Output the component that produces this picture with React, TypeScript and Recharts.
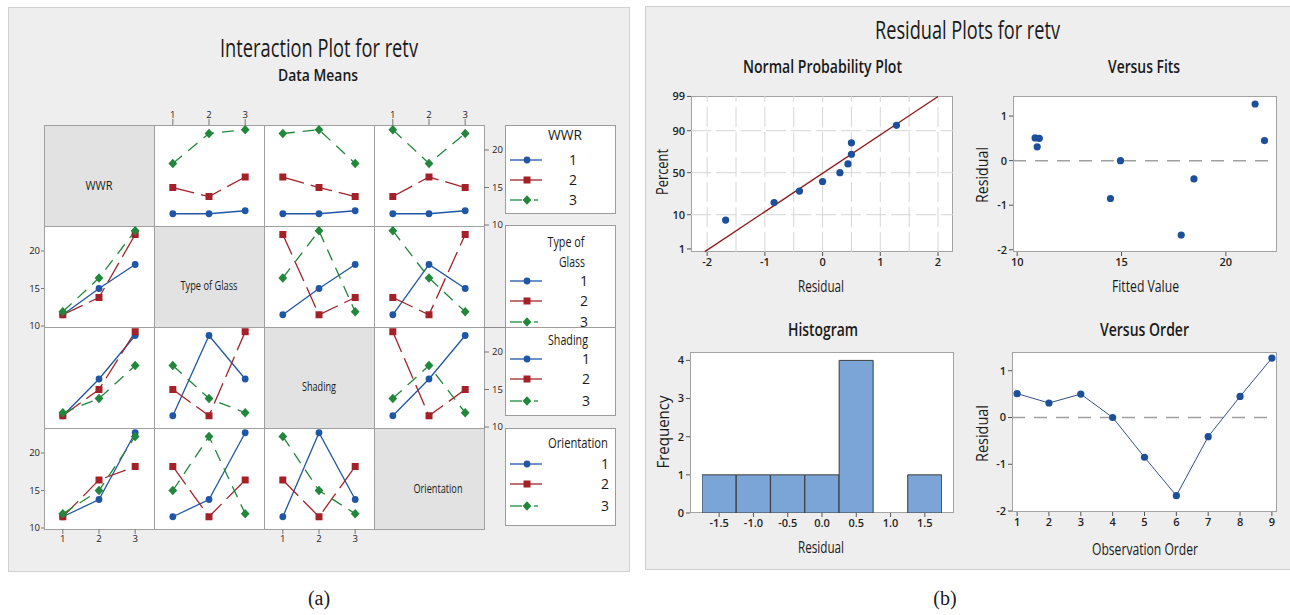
import React from 'react';
import {
  LineChart,
  Line,
  ScatterChart,
  Scatter,
  BarChart,
  Bar,
  XAxis,
  YAxis,
  ReferenceLine,
} from 'recharts';

// ---- interaction plot data (L9 run order) ----
const factorNames = ['WWR', 'Type of Glass', 'Shading', 'Orientation'];
const levels = [1, 2, 3];
const wwrLevel = [1, 1, 1, 2, 2, 2, 3, 3, 3];
const glassLevel = [1, 2, 3, 1, 2, 3, 1, 2, 3];
const shadingLevel = [1, 2, 3, 2, 3, 1, 3, 1, 2];
const orientationLevel = [1, 2, 3, 3, 1, 2, 2, 3, 1];
const retv = [11.5, 11.5, 11.9, 15.0, 13.8, 16.4, 18.2, 22.2, 22.7];
const meanTicks = [10, 15, 20];

// ---- residual plots data ----
const residuals = [0.51, 0.31, 0.5, 0.0, -0.85, -1.67, -0.41, 0.45, 1.27];
const fittedValues = [10.86, 10.96, 11.06, 14.95, 14.47, 17.86, 18.47, 21.85, 21.4];
const probResidual = [-1.68, -0.84, -0.4, 0.0, 0.3, 0.44, 0.5, 0.5, 1.28];
const probPercent = [7.4, 18.1, 28.7, 39.4, 50, 60.6, 71.3, 81.9, 92.6];
const probTicks = [1, 10, 50, 90, 99];
const probGridX = [-2, -1.5, -1, -0.5, 0, 0.5, 1, 1.5, 2];
const fitLineResidual = [-2.04, 2.0];
const fitLinePercent = [0.8, 99];
const histBins = ['-1.5', '-1.0', '-0.5', '0.0', '0.5', '1.0', '1.5'];
const histCounts = [1, 1, 1, 1, 4, 0, 1];
const orderTicks = [1, 2, 3, 4, 5, 6, 7, 8, 9];

const FONT = "'Open Sans', 'Noto Sans', sans-serif";
const design = [wwrLevel, glassLevel, shadingLevel, orientationLevel];

// inverse normal cdf (Acklam) for the probability axis
function probit(p: number) {
  const a = [-39.69683028665376, 220.9460984245205, -275.9285104469687, 138.357751867269, -30.66479806614716, 2.506628277459239];
  const b = [-54.47609879822406, 161.5858368580409, -155.6989798598866, 66.80131188771972, -13.28068155288572];
  const c = [-0.007784894002430293, -0.3223964580411365, -2.400758277161838, -2.549732539343734, 4.374664141464968, 2.938163982698783];
  const d = [0.007784695709041462, 0.3224671290700398, 2.445134137142996, 3.754408661907416];
  const lo = 0.02425;
  if (p < lo || p > 1 - lo) {
    const q = Math.sqrt(-2 * Math.log(p < lo ? p : 1 - p));
    const v = (((((c[0] * q + c[1]) * q + c[2]) * q + c[3]) * q + c[4]) * q + c[5]) /
      ((((d[0] * q + d[1]) * q + d[2]) * q + d[3]) * q + 1);
    return p < lo ? v : -v;
  }
  const q = p - 0.5;
  const r = q * q;
  return ((((((a[0] * r + a[1]) * r + a[2]) * r + a[3]) * r + a[4]) * r + a[5]) * q) /
    (((((b[0] * r + b[1]) * r + b[2]) * r + b[3]) * r + b[4]) * r + 1);
}

const seriesStyle = [
  { color: '#1f56a6', dash: undefined, shape: 'circle' },
  { color: '#a3222a', dash: '22 7', shape: 'square' },
  { color: '#22873c', dash: '12 8', shape: 'diamond' },
];

function markerPath(shape: string, cx: number, cy: number, color: string, key?: any) {
  if (shape === 'circle') return <circle key={key} cx={cx} cy={cy} r={3.4} fill={color} />;
  if (shape === 'square') return <rect key={key} x={cx - 3.5} y={cy - 3.5} width={7} height={7} fill={color} />;
  return <path key={key} d={`M${cx},${cy - 4.7}L${cx + 4.4},${cy}L${cx},${cy + 4.7}L${cx - 4.4},${cy}Z`} fill={color} />;
}

function dotFor(shape: string, color: string) {
  return (props: any) => {
    const { cx, cy, index } = props;
    if (cx == null || cy == null) return <g key={index} />;
    return markerPath(shape, cx, cy, color, index);
  };
}

// means of retv for each level of the row factor, against levels of the column factor
function cellData(r: number, c: number) {
  return levels.map((x) => {
    const row: any = { x };
    levels.forEach((l) => {
      const vals = retv.filter((_, k) => design[r][k] === l && design[c][k] === x);
      row['l' + l] = vals.reduce((s, v) => s + v, 0) / vals.length;
    });
    return row;
  });
}

const colX = [44, 154, 264, 374];
const rowY = [125, 226, 327, 428];
const cellW = 110;
const cellH = 101;
const EXTRA = 8; // room so edge tick labels are not clipped
const smallTick = { fontSize: 9.5, fill: '#222' };

function InteractionCell({ r, c }: { r: number; c: number }) {
  const showTop = r === 0 && c % 2 === 1;
  const showBottom = r === 3 && c % 2 === 0;
  const showLeft = c === 0 && r % 2 === 1;
  const showRight = c === 3 && r % 2 === 0;
  const padT = (showTop ? 20 : 0) + EXTRA;
  const padB = (showBottom ? 20 : 0) + EXTRA;
  const padL = showLeft ? 24 : 0;
  const padR = showRight ? 24 : 0;
  return (
    <div style={{ position: 'absolute', left: colX[c] - padL, top: rowY[r] - padT }}>
      <LineChart
        width={cellW + padL + padR}
        height={cellH + padT + padB}
        data={cellData(r, c)}
        margin={{ top: EXTRA, right: 0, bottom: EXTRA, left: 0 }}
      >
        <XAxis
          type="number"
          dataKey="x"
          domain={[0.48, 3.52]}
          ticks={levels}
          interval={0}
          orientation={showTop ? 'top' : 'bottom'}
          hide={!(showTop || showBottom)}
          height={20}
          axisLine={false}
          tickLine={{ stroke: '#777' }}
          tickSize={showTop ? 6 : 5}
          tickMargin={1}
          tick={smallTick}
        />
        <YAxis
          type="number"
          domain={[9.87, 23.33]}
          ticks={meanTicks}
          interval={0}
          orientation={showRight ? 'right' : 'left'}
          hide={!(showLeft || showRight)}
          width={24}
          axisLine={false}
          tickLine={{ stroke: '#777' }}
          tickSize={showRight ? 5 : 3}
          tickMargin={showRight ? 3 : 1}
          tick={smallTick}
        />
        {levels.map((l, i) => (
          <Line
            key={l}
            dataKey={'l' + l}
            stroke={seriesStyle[i].color}
            strokeWidth={1.3}
            strokeDasharray={seriesStyle[i].dash}
            dot={dotFor(seriesStyle[i].shape, seriesStyle[i].color)}
            activeDot={false}
            isAnimationActive={false}
          />
        ))}
      </LineChart>
    </div>
  );
}

// ---- residual plot frames ----
const PAD_L = 40;
const PAD_R = 8;
const PAD_T = 8;
const PAD_B = 26;
const axisTick = { fontSize: 11, fill: '#1e1e1e', fontWeight: 600 };

function Frame({ rect, children }: { rect: number[]; children: (w: number, h: number) => React.ReactNode }) {
  const [x0, y0, x1, y1] = rect;
  return (
    <>
      <div
        style={{
          position: 'absolute', left: x0, top: y0, width: x1 - x0, height: y1 - y0,
          background: '#fff', border: '1px solid #a3a3a3', boxSizing: 'border-box',
        }}
      />
      <div style={{ position: 'absolute', left: x0 - PAD_L, top: y0 - PAD_T }}>
        {children(x1 - x0 + PAD_L + PAD_R, y1 - y0 + PAD_T + PAD_B)}
      </div>
    </>
  );
}

const chartMargin = { top: PAD_T, right: PAD_R, bottom: 0, left: 0 };
const bluePoint = (p: any) => <circle cx={p.cx} cy={p.cy} r={3.6} fill="#1c4f9c" />;

function axisProps() {
  return { axisLine: false, tickLine: { stroke: '#555' }, tickSize: 4, tickMargin: 2, tick: axisTick, interval: 0 as const, allowDataOverflow: true };
}

function NormalPlot() {
  const data = probResidual.map((r, i) => ({ res: r, z: probit(probPercent[i] / 100) }));
  const zTicks = probTicks.map((p) => probit(p / 100));
  return (
    <Frame rect={[691, 96, 953, 252]}>
      {(w, h) => (
        <ScatterChart width={w} height={h} margin={chartMargin}>
          <XAxis type="number" dataKey="res" domain={[-2.28, 2.26]} ticks={[-2, -1, 0, 1, 2]} height={PAD_B} {...axisProps()} />
          <YAxis
            type="number"
            dataKey="z"
            domain={[-2.42, 2.34]}
            ticks={zTicks}
            width={PAD_L}
            tickFormatter={(v: number) => String(probTicks[zTicks.findIndex((t) => Math.abs(t - v) < 1e-6)])}
            {...axisProps()}
          />
          {probGridX.map((v) => (
            <ReferenceLine key={'gx' + v} x={v} stroke="#d6d6d6" strokeDasharray="20 5" />
          ))}
          {probTicks.slice(1, -1).map((p) => (
            <ReferenceLine key={'gy' + p} y={probit(p / 100)} stroke="#d6d6d6" strokeDasharray="20 5" />
          ))}
          <ReferenceLine
            segment={[
              { x: fitLineResidual[0], y: probit(fitLinePercent[0] / 100) },
              { x: fitLineResidual[1], y: probit(fitLinePercent[1] / 100) },
            ]}
            stroke="#8e1b1b"
            strokeWidth={1.3}
            ifOverflow="visible"
          />
          <Scatter data={data} shape={bluePoint} isAnimationActive={false} />
        </ScatterChart>
      )}
    </Frame>
  );
}

function VersusFits() {
  const data = fittedValues.map((f, i) => ({ fit: f, res: residuals[i] }));
  return (
    <Frame rect={[1013, 96, 1277, 252]}>
      {(w, h) => (
        <ScatterChart width={w} height={h} margin={chartMargin}>
          <XAxis type="number" dataKey="fit" domain={[9.8, 22.45]} ticks={[10, 15, 20]} height={PAD_B} {...axisProps()} />
          <YAxis type="number" dataKey="res" domain={[-2.05, 1.45]} ticks={[-2, -1, 0, 1]} width={PAD_L} {...axisProps()} />
          <ReferenceLine y={0} stroke="#a0a0a0" strokeWidth={1.5} strokeDasharray="13 9" />
          <Scatter data={data} shape={bluePoint} isAnimationActive={false} />
        </ScatterChart>
      )}
    </Frame>
  );
}

function Histogram() {
  const data = histBins.map((b, i) => ({ bin: b, n: histCounts[i] }));
  return (
    <Frame rect={[690, 352, 954, 513]}>
      {(w, h) => (
        <BarChart width={w} height={h} data={data} margin={chartMargin} barCategoryGap={0}>
          <XAxis dataKey="bin" padding={{ left: 12, right: 12 }} height={PAD_B} {...axisProps()} />
          <YAxis type="number" domain={[0, 4.22]} ticks={[0, 1, 2, 3, 4]} width={PAD_L} {...axisProps()} />
          <Bar dataKey="n" fill="#7aa5d6" stroke="#3d3d3d" strokeWidth={1} isAnimationActive={false} />
        </BarChart>
      )}
    </Frame>
  );
}

function VersusOrder() {
  const data = residuals.map((r, i) => ({ obs: orderTicks[i], res: r }));
  return (
    <Frame rect={[1012, 352, 1277, 512]}>
      {(w, h) => (
        <LineChart width={w} height={h} data={data} margin={chartMargin}>
          <XAxis type="number" dataKey="obs" domain={[0.84, 9.16]} ticks={orderTicks} height={PAD_B} {...axisProps()} />
          <YAxis type="number" domain={[-2.02, 1.4]} ticks={[-2, -1, 0, 1]} width={PAD_L} {...axisProps()} />
          <ReferenceLine y={0} stroke="#a0a0a0" strokeWidth={1.5} strokeDasharray="13 9" />
          <Line
            dataKey="res"
            stroke="#34508a"
            strokeWidth={1}
            dot={(p: any) => <circle key={p.index} cx={p.cx} cy={p.cy} r={3.6} fill="#1c4f9c" />}
            activeDot={false}
            isAnimationActive={false}
          />
        </LineChart>
      )}
    </Frame>
  );
}

function Txt({ x, y, size, w, children, weight = 400, rotate = false, family }: any) {
  return (
    <text
      x={x}
      y={y}
      fontSize={size}
      fontWeight={weight}
      textAnchor="middle"
      textLength={w}
      lengthAdjust={w ? 'spacingAndGlyphs' : undefined}
      transform={rotate ? `rotate(-90 ${x} ${y})` : undefined}
      fill="#1a1a1a"
      fontFamily={family}
    >
      {children}
    </text>
  );
}

const legendBoxes = [
  { top: 125, height: 88, lines: [['WWR', 565, 140, 34]], numX: 573, rows: [160, 180, 200] },
  { top: 225, height: 102, lines: [['Type of', 566, 247, 37], ['Glass', 572, 267, 26]], numX: 584, rows: [281, 301, 322] },
  { top: 327, height: 88, lines: [['Shading', 568, 345, 40]], numX: 586, rows: [359, 379, 401] },
  { top: 428, height: 97, lines: [['Orientation', 578, 448, 60]], numX: 605, rows: [464, 484, 506] },
];

const diagLabels = [
  [99, 190, 27],
  [209, 290, 57],
  [319, 391, 34],
  [438, 493, 49],
];

function panelStyle(left: number, top: number, width: number, height: number): React.CSSProperties {
  return {
    position: 'absolute', left, top, width, height, background: '#eeeeee',
    border: '1px solid #d0d0d0', boxSizing: 'border-box',
  };
}

export default function App() {
  const cells: React.ReactNode[] = [];
  for (let r = 0; r < 4; r++) {
    for (let c = 0; c < 4; c++) {
      cells.push(
        <div
          key={`bg${r}${c}`}
          style={{
            position: 'absolute', left: colX[c], top: rowY[r], width: cellW + 1, height: cellH + 1,
            background: r === c ? '#e2e2e2' : '#fff', border: '1px solid #a0a0a0', boxSizing: 'border-box',
          }}
        />
      );
    }
  }
  const charts: React.ReactNode[] = [];
  for (let r = 0; r < 4; r++) {
    for (let c = 0; c < 4; c++) {
      if (r !== c) charts.push(<InteractionCell key={`ch${r}${c}`} r={r} c={c} />);
    }
  }

  return (
    <div
      style={{
        position: 'fixed', left: 0, top: 0, width: 1290, height: 615, background: '#fff',
        overflow: 'hidden', fontFamily: FONT,
      }}
    >
      <div style={panelStyle(8, 7, 622, 565)} />
      <div style={panelStyle(645, 6, 646, 564)} />
      {cells}
      {charts}
      <NormalPlot />
      <VersusFits />
      <Histogram />
      <VersusOrder />

      <svg width={1290} height={615} style={{ position: 'absolute', left: 0, top: 0, pointerEvents: 'none' }} fontFamily={FONT}>
        {/* left panel titles */}
        <Txt x={319} y={57} size={25} w={198} weight={500}>Interaction Plot for retv</Txt>
        <Txt x={318} y={81} size={16} w={80} weight={600}>Data Means</Txt>
        {factorNames.map((name, i) => (
          <Txt key={name} x={diagLabels[i][0]} y={diagLabels[i][1]} size={13} w={diagLabels[i][2]}>{name}</Txt>
        ))}

        {/* legends */}
        <line x1={484} y1={327.5} x2={615} y2={327.5} stroke="#8c8c8c" />
        {legendBoxes.map((b, bi) => (
          <g key={bi}>
            <rect x={505.5} y={b.top + 0.5} width={110} height={b.height} fill="#fff" stroke="#9c9c9c" />
            {b.lines.map((ln: any) => (
              <Txt key={ln[0]} x={ln[1]} y={ln[2]} size={15} w={ln[3]}>{ln[0]}</Txt>
            ))}
            {levels.map((l, i) => {
              const y = b.rows[i];
              const st = seriesStyle[i];
              return (
                <g key={l}>
                  {st.shape === 'diamond' ? (
                    <>
                      <line x1={510} y1={y} x2={522} y2={y} stroke={st.color} strokeWidth={1.3} />
                      <line x1={534} y1={y} x2={538} y2={y} stroke={st.color} strokeWidth={1.3} />
                    </>
                  ) : (
                    <line x1={510} y1={y} x2={542} y2={y} stroke={st.color} strokeWidth={1.3} />
                  )}
                  {markerPath(st.shape, 527, y, st.color)}
                  <Txt x={b.numX} y={y + 5} size={14}>{String(l)}</Txt>
                </g>
              );
            })}
          </g>
        ))}

        {/* right panel titles */}
        <Txt x={967.5} y={39} size={25} w={185} weight={500}>Residual Plots for retv</Txt>
        <Txt x={822.5} y={73} size={18} w={159} weight={600}>Normal Probability Plot</Txt>
        <Txt x={1144} y={73} size={18} w={72} weight={600}>Versus Fits</Txt>
        <Txt x={823} y={336} size={18} w={70} weight={600}>Histogram</Txt>
        <Txt x={1144.5} y={336} size={18} w={89} weight={600}>Versus Order</Txt>
        <Txt x={821} y={292} size={16} w={46} weight={500}>Residual</Txt>
        <Txt x={1145.5} y={292} size={16} w={67} weight={500}>Fitted Value</Txt>
        <Txt x={821} y={553} size={16} w={46} weight={500}>Residual</Txt>
        <Txt x={1145} y={555} size={16} w={106} weight={500}>Observation Order</Txt>
        <Txt x={668} y={172} size={16} w={46} weight={500} rotate>Percent</Txt>
        <Txt x={988} y={175} size={16} w={56} weight={500} rotate>Residual</Txt>
        <Txt x={669} y={432} size={16} w={73} weight={500} rotate>Frequency</Txt>
        <Txt x={988} y={433.5} size={16} w={57} weight={500} rotate>Residual</Txt>

        {/* captions */}
        <Txt x={319} y={605} size={20} family="'Liberation Serif', serif">(a)</Txt>
        <Txt x={945} y={605} size={20} family="'Liberation Serif', serif">(b)</Txt>
      </svg>
    </div>
  );
}
